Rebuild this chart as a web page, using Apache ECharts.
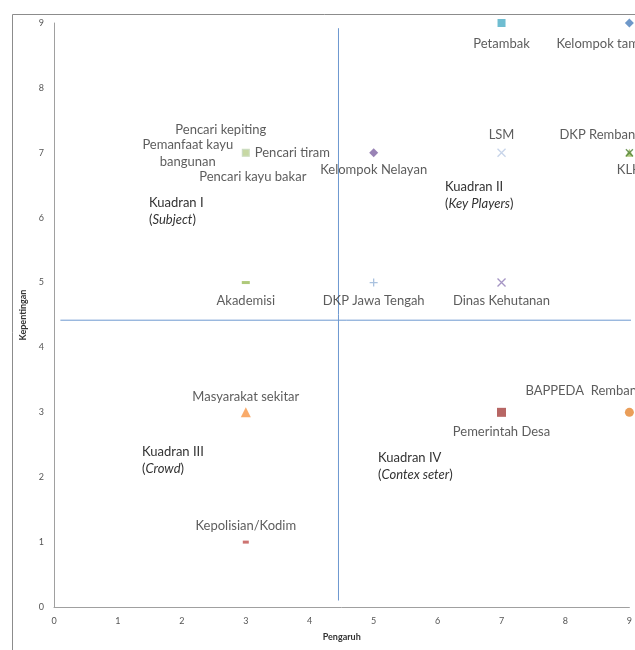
<!DOCTYPE html>
<html><head><meta charset="utf-8">
<script src="https://cdn.jsdelivr.net/npm/echarts@6/dist/echarts.min.js"></script>
<style>html,body{margin:0;padding:0;background:#fff}#c{width:635px;height:650px}</style>
</head><body><div id="c"></div>
<script>
// ---- data ----
const stakeholders = ['Petambak','Kelompok tambak','LSM','DKP Rembang','KLH','Kelompok Nelayan',
  'Pencari tiram','Pencari kepiting','Pemanfaat kayu\nbangunan','Pencari kayu bakar',
  'Akademisi','DKP Jawa Tengah','Dinas Kehutanan','Masyarakat sekitar','Kepolisian/Kodim',
  'Pemerintah Desa','BAPPEDA  Rembang'];
const pengaruh    = [7,9,7,9,9,5,3,3,3,3,3,5,7,3,3,7,9];
const kepentingan = [9,9,7,7,7,7,7,7,7,7,5,5,5,3,1,3,3];
const dividerX = [[4.45,0.1],[4.45,8.92]];
const dividerY = [[0.1,4.42],[9.3,4.42]];
const xTicks = [0,1,2,3,4,5,6,7,8,9];
const yTicks = [0,1,2,3,4,5,6,7,8,9];

// ---- styles (keyed by stakeholder) ----
const XP = 'path://M0,0L10,10M10,0L0,10';
const PP = 'path://M5,0L5,10M0,5L10,5';
const sty = {
 'Petambak':{s:'rect',z:8,c:'#4bacc6',o:[0,21]},
 'Kelompok tambak':{s:'diamond',z:9,c:'#4a7ebb',o:[-73,21],a:'left'},
 'LSM':{s:XP,z:8,c:'#b9c9e4',o:[0,-18],line:true},
 'DKP Rembang':{s:'triangle',z:8,c:'#9bbb59',o:[-70,-18],a:'left'},
 'KLH':{s:XP,z:7,c:'#4f7f3a',o:[0,17],line:true},
 'Kelompok Nelayan':{s:'diamond',z:9,c:'#8064a2',o:[0,17]},
 'Pencari tiram':{s:'rect',z:8,c:'#c3d69b',o:[9,0],a:'left'},
 'Pencari kepiting':{s:'rect',z:7,c:'#c9dbe6',o:[-25,-23]},
 'Pemanfaat kayu\nbangunan':{s:'rect',z:6,c:'#d7e4bd',o:[-58,1]},
 'Pencari kayu bakar':{s:'rect',z:6,c:'#c3d69b',o:[7,24]},
 'Akademisi':{s:'rect',z:[8,3],c:'#9bbb59',o:[0,18]},
 'DKP Jawa Tengah':{s:PP,z:8,c:'#95b3d7',o:[0,18],line:true},
 'Dinas Kehutanan':{s:XP,z:8,c:'#8f7bb5',o:[0,18],line:true},
 'Masyarakat sekitar':{s:'triangle',z:10,c:'#f79646',o:[0,-16]},
 'Kepolisian/Kodim':{s:'rect',z:[6,3],c:'#c0504d',o:[0,-16]},
 'Pemerintah Desa':{s:'rect',z:9,c:'#a5403d',o:[0,19]},
 'BAPPEDA  Rembang':{s:'circle',z:9,c:'#e5862f',o:[-104,-22],a:'left'}
};
const FONT = 'Lato, "Open Sans", sans-serif';
const TXT = '#333333';

const points = stakeholders.map((n,i)=>{
  const st = sty[n];
  return {
    name:n, value:[pengaruh[i],kepentingan[i]],
    symbol:st.s, symbolSize:st.z,
    itemStyle: st.line ? {color:'none',borderColor:st.c,borderWidth:1.3} : {color:st.c},
    label:{show:true,formatter:n,position:'inside',offset:st.o,align:st.a||'center',
      verticalAlign:'middle',fontSize:13,fontFamily:FONT,color:TXT,lineHeight:17}
  };
});

const chart = echarts.init(document.getElementById('c'),null,{renderer:'canvas'});
const axisCommon = {
  type:'value',min:0,max:9,interval:1,
  axisLine:{show:true,lineStyle:{color:'#a0a0a0',width:1}},
  axisTick:{show:false},splitLine:{show:false},
  nameLocation:'middle',
  nameTextStyle:{fontSize:9,fontWeight:'bold',fontFamily:FONT,color:'#333333'},
  axisLabel:{fontSize:9,fontFamily:FONT,color:'#555555',margin:10}
};
const q = (x,y,a,b)=>({type:'text',left:x,top:y,style:{
  text:'{n|'+a+'}\n{n|(}{i|'+b+'}{n|)}',
  rich:{n:{fontSize:13,fontFamily:FONT,fill:TXT,lineHeight:17},i:{fontSize:13,fontFamily:FONT,fontStyle:'italic',fill:TXT,lineHeight:17}}}});
chart.setOption({
  animation:false,
  backgroundColor:'#fff',
  grid:{left:54,right:4,top:23,bottom:43,containLabel:false},
  xAxis:Object.assign({},axisCommon,{name:'Pengaruh',nameGap:26}),
  yAxis:Object.assign({},axisCommon,{name:'Kepentingan',nameGap:17}),
  graphic:[
    {type:'rect',left:10,top:12,shape:{width:700,height:700},style:{fill:'none',stroke:'#8c8c8c',lineWidth:1},z:-1},
    q(149,196,'Kuadran I','Subject'),
    q(445,180,'Kuadran II','Key Players'),
    q(142,445,'Kuadran III','Crowd'),
    q(378,451,'Kuadran IV','Contex seter')
  ],
  series:[
    {type:'line',data:dividerX,symbol:'none',clip:false,silent:true,lineStyle:{color:'#6d98d0',width:1}},
    {type:'line',data:dividerY,symbol:'none',clip:false,silent:true,lineStyle:{color:'#6d98d0',width:1}},
    {type:'scatter',data:points,clip:false,z:5}
  ]
});
</script></body></html>
